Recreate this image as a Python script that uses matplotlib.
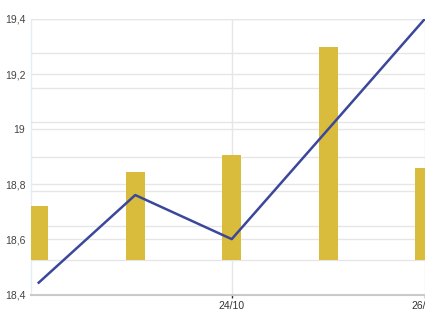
import matplotlib
matplotlib.use("Agg")
import matplotlib.pyplot as plt

categories = ['22/10', '23/10', '24/10', '25/10', '26/10']
bar_values = [1.57, 2.57, 3.05, 6.18, 2.67]
line_values = [18.443, 18.761, 18.601, 19.0, 19.4]
y_ticks = [18.4, 18.6, 18.8, 19.0, 19.2, 19.4]
y_ticklabels = ['18,4', '18,6', '18,8', '19', '19,2', '19,4']
x_tick_idx = [2, 4]
x_ticklabels = ['24/10', '26/10']

plt.rcParams['font.family'] = ['Liberation Sans', 'DejaVu Sans']

fig = plt.figure(figsize=(4.25, 3.19), dpi=100)
ax = fig.add_axes([31/425, 24.5/319, 442/425, 275.5/319])
x = list(range(len(categories)))

ax.set_xlim(-0.08, 4.5)
ax.set_ylim(18.4, 19.4)
ax.set_yticks(y_ticks)
ax.set_yticklabels(y_ticklabels)
ax.set_xticks(x_tick_idx)
ax.set_xticklabels(x_ticklabels)
ax.grid(True, color='#e6e6e6', linewidth=1.0)
ax.tick_params(axis='y', length=0, pad=4, labelsize=7.5, labelcolor='#444444')
ax.tick_params(axis='x', length=2, width=1, color='#333333', pad=3, labelsize=7.5, labelcolor='#333333')
for s in ['top', 'right']:
    ax.spines[s].set_visible(False)
ax.spines['bottom'].set_color('#c8c8c8')
ax.spines['bottom'].set_linewidth(1.5)
ax.spines['left'].set_color('#e4ecf4')
ax.spines['left'].set_linewidth(1.0)

axb = ax.twinx()
axb.set_ylim(-1, 7)
axb.set_yticks(range(-1, 8))
axb.bar(x, bar_values, width=0.194, color='#d9bc3c', zorder=3)
axb.set_axisbelow(True)
axb.grid(True, axis='y', color='#e6e6e6', linewidth=1.0)
axb.tick_params(axis='y', length=0, labelright=False)
for s in axb.spines.values():
    s.set_visible(False)
axb.patch.set_visible(False)

axl = ax.twinx()
axl.set_ylim(18.4, 19.4)
axl.plot(x, line_values, color='#3b479b', linewidth=1.8, zorder=5)
axl.set_yticks([])
for s in axl.spines.values():
    s.set_visible(False)
axl.patch.set_visible(False)

fig.savefig('out.png', dpi=100)
